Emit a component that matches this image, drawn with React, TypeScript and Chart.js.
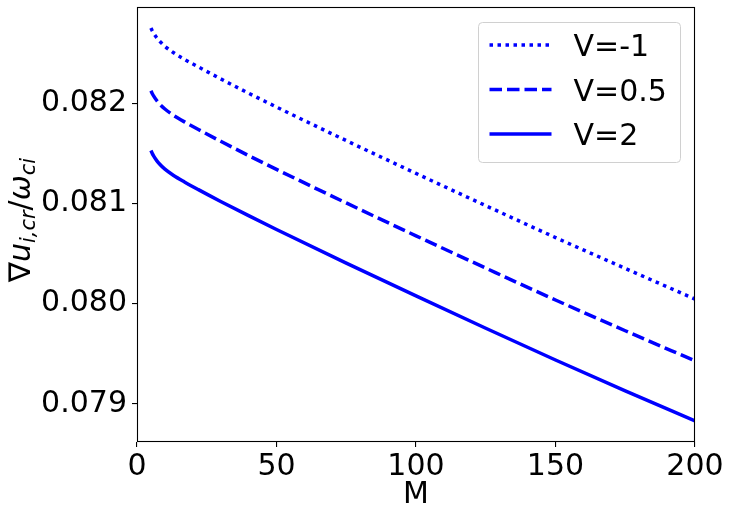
import { useEffect, useRef } from 'react';
import { Chart, registerables } from 'chart.js';

Chart.register(...registerables);

const mValues = [5, 5.5, 6, 7, 8, 10, 13, 17, 22, 30, 40, 50, 75, 100, 125, 150, 175, 200];
const vMinus1 = [0.082751, 0.08272, 0.082696, 0.082655, 0.082622, 0.082568, 0.082506, 0.082438, 0.082362, 0.082243, 0.0821, 0.081962, 0.081627, 0.0813, 0.080978, 0.08066, 0.080352, 0.080046];
const vHalf = [0.082125, 0.082095, 0.08207, 0.082029, 0.081995, 0.081942, 0.081881, 0.081814, 0.081738, 0.08162, 0.081478, 0.08134, 0.081005, 0.080677, 0.080355, 0.080037, 0.07973, 0.07943];
const vTwo = [0.081529, 0.081497, 0.081472, 0.08143, 0.081396, 0.081342, 0.081282, 0.081215, 0.081138, 0.08102, 0.080878, 0.08074, 0.080405, 0.080078, 0.079755, 0.079438, 0.07913, 0.07883];

const seriesLabels = ['V=-1', 'V=0.5', 'V=2'];
const xTicks = [0, 50, 100, 150, 200];
const yTicks = [0.079, 0.08, 0.081, 0.082];

const FONT = '"DejaVu Sans", sans-serif';
const BLUE = '#0000ff';
const dashes = [[3.5, 4.5], [12.5, 5], []];

// box around the plot, like matplotlib spines
const framePlugin = {
  id: 'frame',
  afterDatasetsDraw(chart: Chart) {
    const { ctx, chartArea: a } = chart;
    ctx.save();
    ctx.strokeStyle = '#000';
    ctx.lineWidth = 1.1;
    ctx.strokeRect(a.left + 0.5, a.top + 0.5, a.right - a.left - 1, a.bottom - a.top - 1);
    ctx.restore();
  },
};

const legendPlugin = {
  id: 'boxLegend',
  afterDraw(chart: Chart) {
    const { ctx, chartArea: a } = chart;
    const right = a.right - 14.5;
    const left = right - 202;
    const top = a.top + 15.5;
    ctx.save();
    ctx.beginPath();
    ctx.roundRect(left, top, right - left, 140, 4);
    ctx.fillStyle = 'rgba(255,255,255,0.8)';
    ctx.fill();
    ctx.strokeStyle = '#d0d0d0';
    ctx.lineWidth = 1;
    ctx.stroke();
    chart.data.datasets.forEach((ds: any, i: number) => {
      const y = top + 22.5 + i * 44.5;
      ctx.beginPath();
      ctx.setLineDash(dashes[i]);
      ctx.strokeStyle = BLUE;
      ctx.lineWidth = 3.5;
      ctx.moveTo(left + 11, y);
      ctx.lineTo(left + 73, y);
      ctx.stroke();
      ctx.setLineDash([]);
      ctx.fillStyle = '#000';
      ctx.font = `30px ${FONT}`;
      ctx.textBaseline = 'alphabetic';
      ctx.textAlign = 'left';
      ctx.fillText(ds.label, left + 95, y + 11);
    });
    ctx.restore();
  },
};

// y title with subscripts: ∇u_{i,cr}/ω_{ci}
const yTitlePlugin = {
  id: 'yTitle',
  afterDraw(chart: Chart) {
    const { ctx } = chart;
    const parts = [
      { t: '∇', it: false, sub: false },
      { t: 'u', it: true, sub: false },
      { t: 'i,cr', it: true, sub: true },
      { t: '/', it: false, sub: false },
      { t: 'ω', it: true, sub: false },
      { t: 'ci', it: true, sub: true },
    ];
    const fontOf = (p: any) => `${p.it ? 'italic ' : ''}${p.sub ? 21 : 30}px ${FONT}`;
    ctx.save();
    let total = 0;
    const widths = parts.map((p) => {
      ctx.font = fontOf(p);
      const w = ctx.measureText(p.t).width;
      total += w;
      return w;
    });
    ctx.translate(30, 220);
    ctx.rotate(-Math.PI / 2);
    ctx.fillStyle = '#000';
    ctx.textBaseline = 'alphabetic';
    ctx.textAlign = 'left';
    let x = -total / 2;
    parts.forEach((p, i) => {
      ctx.font = fontOf(p);
      ctx.fillText(p.t, x, p.sub ? 5 : 0);
      x += widths[i];
    });
    ctx.restore();
  },
};

function zeroPadding(s: any) {
  s.paddingTop = 0;
  s.paddingBottom = 0;
  s.paddingLeft = 0;
  s.paddingRight = 0;
}

export default function App() {
  const canvasRef = useRef<HTMLCanvasElement>(null);

  useEffect(() => {
    if (!canvasRef.current) return;
    const series = [vMinus1, vHalf, vTwo];
    const chart = new Chart(canvasRef.current, {
      type: 'line',
      data: {
        datasets: series.map((vals, i) => ({
          label: seriesLabels[i],
          data: mValues.map((m, j) => ({ x: m, y: vals[j] })),
          borderColor: BLUE,
          backgroundColor: BLUE,
          borderWidth: 3.5,
          borderDash: dashes[i],
          pointRadius: 0,
          cubicInterpolationMode: 'monotone' as const,
          fill: false,
        })),
      },
      options: {
        animation: false,
        responsive: true,
        maintainAspectRatio: false,
        layout: { autoPadding: false, padding: { top: 7, right: 35, left: 0, bottom: 0 } },
        plugins: { legend: { display: false }, tooltip: { enabled: false } },
        scales: {
          x: {
            type: 'linear',
            min: 0,
            max: 200,
            afterBuildTicks: (axis: any) => {
              axis.ticks = xTicks.map((v) => ({ value: v }));
            },
            afterFit: (s: any) => {
              s.height = 76;
              zeroPadding(s);
            },
            ticks: { color: '#000', font: { family: FONT, size: 30 }, padding: 2, maxRotation: 0 },
            grid: { display: true, drawOnChartArea: false, drawTicks: true, tickLength: 5, color: '#000', lineWidth: 1.1 },
            border: { display: false },
            title: { display: true, text: 'M', color: '#000', font: { family: FONT, size: 30, lineHeight: 1.2 }, padding: { top: 0, bottom: 5 } },
          },
          y: {
            type: 'linear',
            min: 0.07862,
            max: 0.08296,
            afterBuildTicks: (axis: any) => {
              axis.ticks = yTicks.map((v) => ({ value: v }));
            },
            afterFit: (s: any) => {
              s.width = 137;
              zeroPadding(s);
            },
            ticks: { color: '#000', font: { family: FONT, size: 30 }, padding: 5, callback: (v: any) => Number(v).toFixed(3) },
            grid: { display: true, drawOnChartArea: false, drawTicks: true, tickLength: 5, color: '#000', lineWidth: 1.1 },
            border: { display: false },
          },
        },
      },
      plugins: [framePlugin, legendPlugin, yTitlePlugin],
    });
    return () => chart.destroy();
  }, []);

  return (
    <div style={{ position: 'absolute', left: 0, top: 0, width: 730, height: 518, background: '#fff' }}>
      <canvas ref={canvasRef} />
    </div>
  );
}
